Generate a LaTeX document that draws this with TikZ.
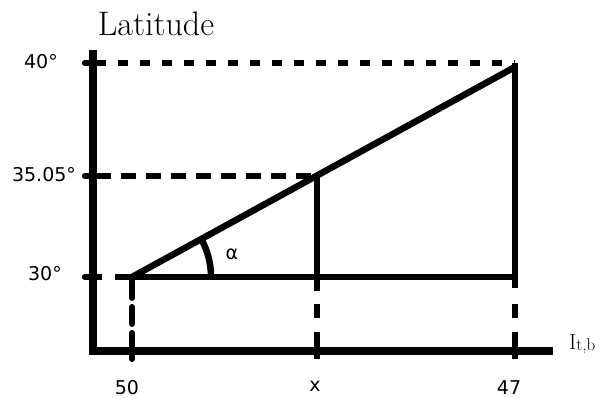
\documentclass[tikz,border=0pt]{standalone}
\usepackage{fontspec}
\newfontfamily\tickfont{DejaVu Sans}
\usetikzlibrary{calc}

\begin{document}
\begin{tikzpicture}[x=1pt,y=-1pt,
        axisline/.style={line width=7.5pt, line join=miter},
        solidline/.style={line width=6.5pt},
        tickstub/.style={line width=6.5pt},
        guidedash/.style={line width=6.5pt, dash pattern=on 10pt off 12pt},
        guidelong/.style={line width=6.5pt, dash pattern=on 15pt off 10pt},
        dropfirst/.style={line width=6pt, dash pattern=on 17pt off 9pt on 17pt off 9pt on 60pt},
        dropnext/.style={line width=6pt, dash pattern=on 14pt off 14pt on 60pt},
        ticklabel/.style={font=\tickfont\fontsize{19}{19}\selectfont, inner sep=0pt}]
        \useasboundingbox (0,0) rectangle (603,398);

        % axes
        \coordinate (ytop) at (93,50);
        \coordinate (origin) at (93,351);
        \coordinate (xend) at (553,351);
        \draw[axisline] (ytop) -- (origin) -- (xend);

        % points of the triangle
        \coordinate (A) at (132,277);
        \coordinate (B) at (317,176);
        \coordinate (C) at (515,67);
        \coordinate (Bfoot) at (317,277);
        \coordinate (Cfoot) at (515,277);
        \coordinate (Ctop) at (515,63);

        % levels on the latitude axis
        \coordinate (y40) at (93,63);
        \coordinate (y35) at (93,176);
        \coordinate (y30) at (93,277);
        \foreach \lv in {y40,y35,y30}
            \draw[tickstub, line cap=round] ($(\lv)+(-8,0)$) -- (\lv);
        \draw[tickstub] (y30) -- ++(9,0);

        \draw[guidedash] ($(y40)+(3,0)$) -- (Ctop);
        \draw[guidelong] ($(y35)+(3,0)$) -- (B);
        \draw[solidline] (115,277) -- (Cfoot);

        % triangle
        \draw[solidline] (A) -- (C);
        \draw[solidline] (B) -- ($(Bfoot)+(0,14)$);
        \draw[solidline] (Ctop) -- ($(Cfoot)+(0,11)$);
        \draw[solidline] (A) ++(79,0) arc[start angle=0, end angle=29, radius=79pt];

        % drop lines to the x axis
        \draw[dropfirst, line cap=round] ($(A)+(0,4)$) -- ($(A|-origin)+(0,8)$);
        \foreach \p in {Bfoot,Cfoot}
            \draw[dropnext] ($(\p)+(0,27)$) -- ($(\p|-origin)+(0,8)$);

        % labels
        \node[font=\fontsize{34}{34}\selectfont, anchor=base] (ylab) at (156,36) {Latitude};
        \node[anchor=base west, inner sep=0pt] (xlab) at (569,350)
            {\fontsize{22}{22}\selectfont I\raisebox{-1pt}{\fontsize{17}{17}\selectfont t,b}};
        \node[ticklabel] (lbl40) at (41,62) {40°};
        \node[ticklabel] (lbl35) at (44,175) {35.05°};
        \node[ticklabel] (lbl30) at (45,274) {30°};
        \node[ticklabel] (lbl50) at (127,388) {50};
        \node[ticklabel] (lblx) at (315,386) {x};
        \node[ticklabel] (lbl47) at (509,388) {47};
        \node[ticklabel] (alpha) at (232,254) {α};
\end{tikzpicture}
\end{document}
